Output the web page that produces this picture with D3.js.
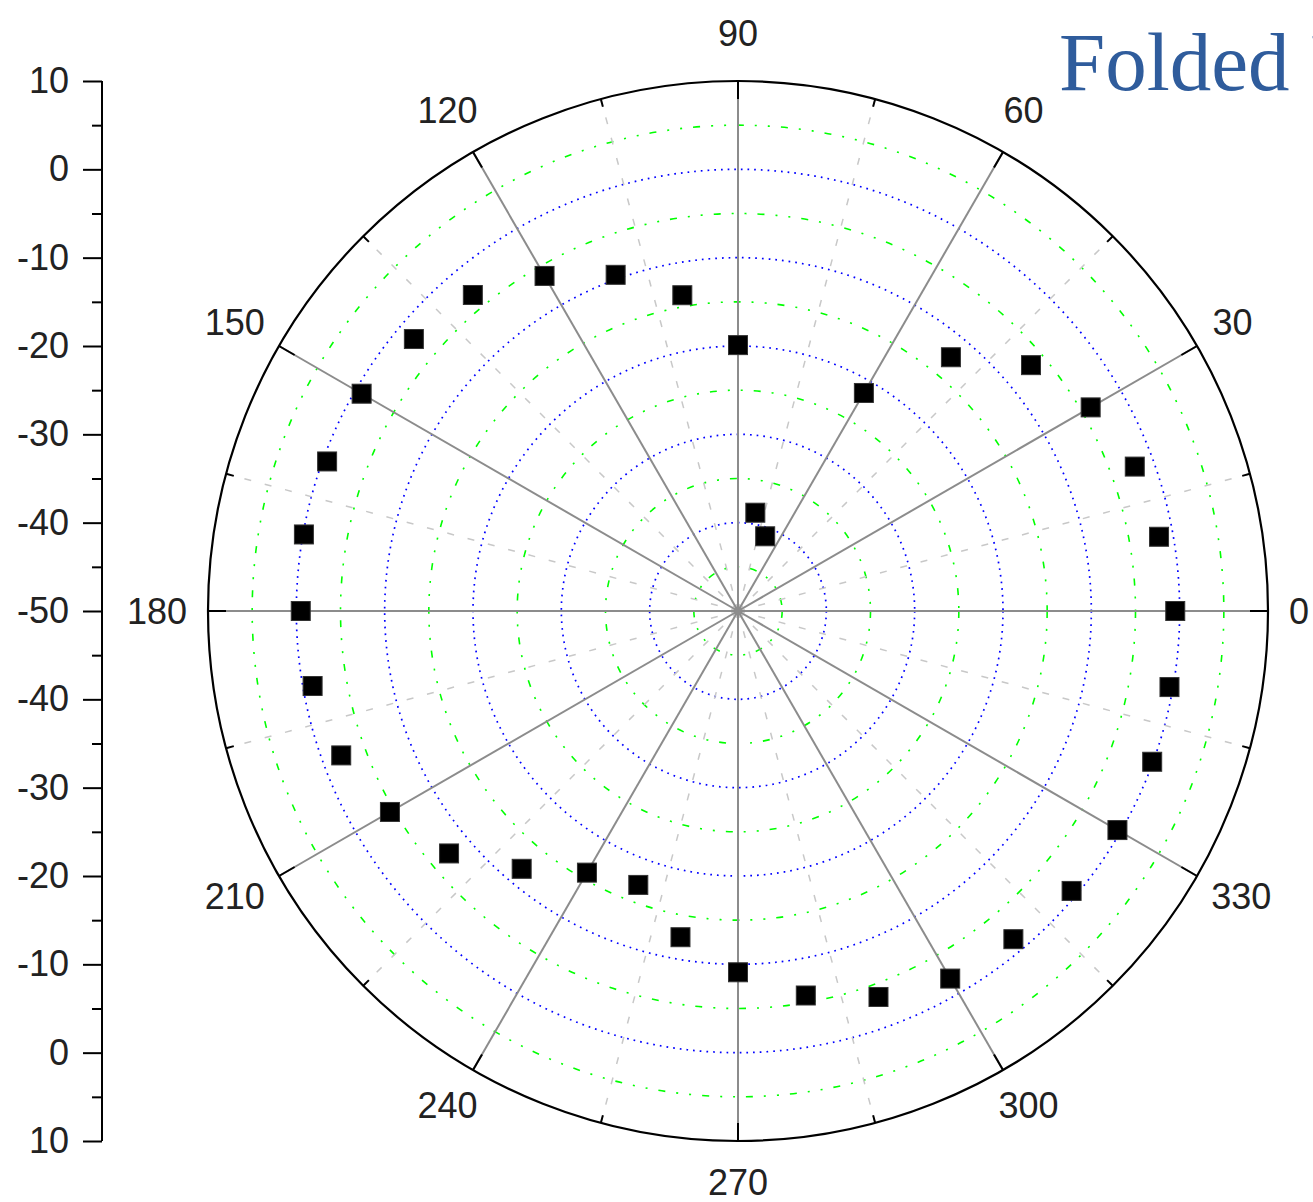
<!DOCTYPE html>
<html>
<head>
<meta charset="utf-8">
<script src="https://cdn.jsdelivr.net/npm/d3@7"></script>
<style>
  html, body { margin: 0; padding: 0; background: #fff; overflow: hidden; }
  svg { display: block; }
</style>
</head>
<body>
<svg id="chart" width="1313" height="1202"></svg>
<script>
// ---- data ----
const angles = [0, 10, 20, 30, 40, 50, 60, 70, 80, 90, 100, 110, 120, 130, 140, 150, 160, 170,
                180, 190, 200, 210, 220, 230, 240, 250, 260, 270, 280, 290, 300, 310, 320, 330, 340, 350];
const values = [-0.5, -1.6, -2.2, -3.9, -6.7, -12.5, -21.5, -41.0, -38.7, -19.9, -13.7, -9.5, -6.2, -3.3, -2.1, -0.8, -0.5, -0.1,
                -0.5, -1.1, -2.2, -4.5, -7.3, -11.9, -15.8, -17.0, -12.5, -9.1, -5.8, -3.5, -1.95, -1.5, -0.7, -0.4, -0.1, -0.4];
const angleTicks = [0, 30, 60, 90, 120, 150, 180, 210, 240, 270, 300, 330];
const angleMinorTicks = [15, 45, 75, 105, 135, 165, 195, 225, 255, 285, 315, 345];
const radialMajor = [-40, -30, -20, -10, 0];
const radialMinor = [-45, -35, -25, -15, -5, 5];
const radialAxisTicks = [-50, -40, -30, -20, -10, 0, 10];
const radialAxisMinor = [-45, -35, -25, -15, -5, 5];
const titleText = "Folded Polar";

// ---- layout ----
const svg = d3.select("#chart");
const cx = 738, cy = 611, R = 530;
const rScale = d3.scaleLinear().domain([-50, 10]).range([0, R]);
const toRad = d => d * Math.PI / 180;
const pt = (deg, r) => d3.pointRadial(Math.PI / 2 - toRad(deg), r);

const g = svg.append("g").attr("transform", `translate(${cx},${cy})`);

// green dash-dot minor circles
g.selectAll("circle.minor").data(radialMinor).join("circle")
  .attr("r", d => rScale(d)).attr("fill", "none")
  .attr("stroke", "#00ff00").attr("stroke-width", 1.6)
  .attr("stroke-dasharray", "7 11 2 11 2 11");

// blue dotted major circles
g.selectAll("circle.major").data(radialMajor).join("circle")
  .attr("r", d => rScale(d)).attr("fill", "none")
  .attr("stroke", "#0000ff").attr("stroke-width", 1.7)
  .attr("stroke-dasharray", "1.7 5");

// light grey dashed radial lines at minor angles
g.selectAll("line.aminor").data(angleMinorTicks).join("line")
  .attr("x1", 0).attr("y1", 0)
  .attr("x2", d => pt(d, R)[0]).attr("y2", d => pt(d, R)[1])
  .attr("stroke", "#c8c8c8").attr("stroke-width", 1.5)
  .attr("stroke-dasharray", "7 14");

// grey solid spokes
g.selectAll("line.amajor").data(angleTicks).join("line")
  .attr("x1", 0).attr("y1", 0)
  .attr("x2", d => pt(d, R)[0]).attr("y2", d => pt(d, R)[1])
  .attr("stroke", "#8c8c8c").attr("stroke-width", 2);

g.append("circle").attr("r", 4).attr("fill", "#8c8c8c");

// outer circle
g.append("circle").attr("r", R).attr("fill", "none")
  .attr("stroke", "#000").attr("stroke-width", 2.2);

// ticks on outer circle (inward)
g.selectAll("line.tmaj").data(angleTicks).join("line")
  .attr("x1", d => pt(d, R)[0]).attr("y1", d => pt(d, R)[1])
  .attr("x2", d => pt(d, R - 18)[0]).attr("y2", d => pt(d, R - 18)[1])
  .attr("stroke", "#000").attr("stroke-width", 2);
g.selectAll("line.tmin").data(angleMinorTicks).join("line")
  .attr("x1", d => pt(d, R)[0]).attr("y1", d => pt(d, R)[1])
  .attr("x2", d => pt(d, R - 8)[0]).attr("y2", d => pt(d, R - 8)[1])
  .attr("stroke", "#000").attr("stroke-width", 2);

// angular labels
const fontSize = 36;
const labels = g.selectAll("text.alab").data(angleTicks).join("text")
  .attr("font-family", "'Liberation Sans', Arial, sans-serif")
  .attr("font-size", fontSize).attr("fill", "#222")
  .attr("text-anchor", "middle").attr("dominant-baseline", "central")
  .text(d => d);
labels.each(function(d) {
  const w = this.getComputedTextLength();
  const a = toRad(d);
  const c = Math.cos(a), s = Math.sin(a);
  const rx = 551 + w / 2;
  const ry = (s > 0 ? 565 : 558) + 13;
  d3.select(this).attr("x", rx * c).attr("y", -ry * s);
});

// data markers
const sz = 19;
g.selectAll("rect.pt").data(angles.map((a, i) => [a, values[i]])).join("rect")
  .attr("x", d => pt(d[0], rScale(d[1]))[0] - sz / 2)
  .attr("y", d => pt(d[0], rScale(d[1]))[1] - sz / 2)
  .attr("width", sz).attr("height", sz)
  .attr("fill", "#000").attr("stroke", "#333").attr("stroke-width", 1);

// left folded radial axis
const axX = 102;
const yTop = d3.scaleLinear().domain([-50, 10]).range([cy, cy - R]);
const yBot = d3.scaleLinear().domain([-50, 10]).range([cy, cy + R]);
const axG = svg.append("g").attr("transform", `translate(${axX},0)`);
axG.append("line").attr("x1", 0).attr("x2", 0)
  .attr("y1", yTop(10)).attr("y2", yBot(10))
  .attr("stroke", "#000").attr("stroke-width", 2);

function drawAxis(scale, ticks) {
  const a = d3.axisLeft(scale).tickValues(ticks).tickSize(19).tickPadding(14)
    .tickFormat(d => String(d));
  const sel = axG.append("g").call(a);
  sel.select(".domain").remove();
  sel.selectAll(".tick line").attr("stroke", "#000").attr("stroke-width", 2);
  sel.selectAll(".tick text")
    .attr("font-family", "'Liberation Sans', Arial, sans-serif")
    .attr("font-size", fontSize).attr("fill", "#222");
  const m = d3.axisLeft(scale).tickValues(radialAxisMinor).tickSize(10).tickFormat("");
  const ms = axG.append("g").call(m);
  ms.select(".domain").remove();
  ms.selectAll(".tick line").attr("stroke", "#000").attr("stroke-width", 2);
}
drawAxis(yTop, radialAxisTicks);
drawAxis(yBot, radialAxisTicks.filter(d => d !== -50));

// title
svg.append("text").attr("x", 1059).attr("y", 90)
  .attr("font-family", "'Liberation Serif', 'Times New Roman', serif")
  .attr("font-size", 83).attr("fill", "#2f5c9c")
  .text(titleText);
</script>
</body>
</html>
